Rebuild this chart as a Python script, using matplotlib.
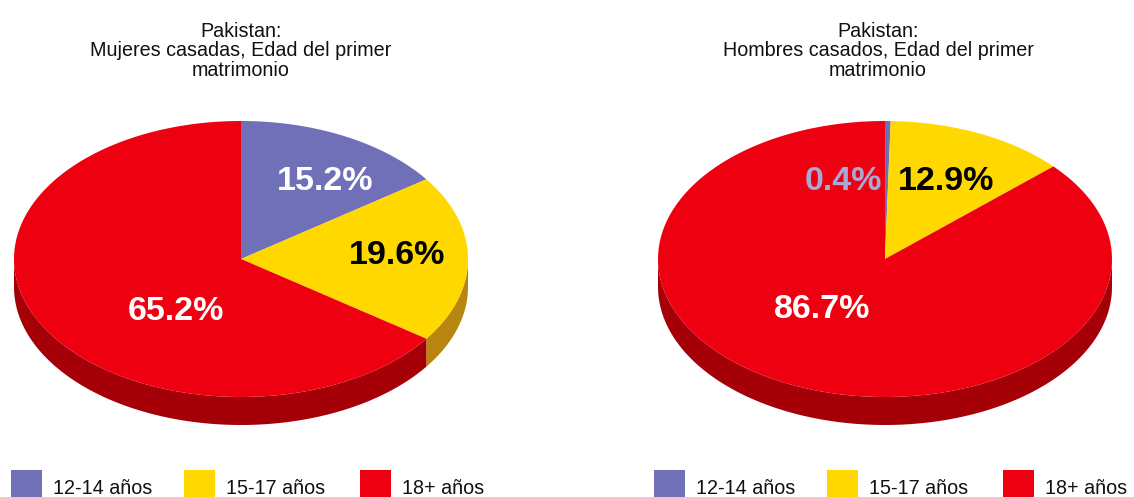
import numpy as np
import matplotlib
matplotlib.use("Agg")
import matplotlib.pyplot as plt
from matplotlib.patches import Wedge, Rectangle, Polygon

titles = ["Pakistan:\nMujeres casadas, Edad del primer\nmatrimonio",
          "Pakistan:\nHombres casados, Edad del primer\nmatrimonio"]
categories = ["12-14 años", "15-17 años", "18+ años"]
women = [15.2, 19.6, 65.2]
men = [0.4, 12.9, 86.7]
colors = ["#7070B8", "#FFD800", "#EE0011"]
dark = ["#50508a", "#B8860F", "#A50008"]
text_colors = ["white", "black", "white"]
W, H = 1134, 497
plt.rcParams['font.family'] = ['Liberation Sans', 'DejaVu Sans']
fig = plt.figure(figsize=(W/100, H/100), dpi=100)
ax = fig.add_axes([0, 0, 1, 1])
ax.set_xlim(0, W); ax.set_ylim(H, 0); ax.axis('off')

def pie(cx, cy, rx, ry, depth, vals, labels_at, lab_cols):
    a = 0
    edges = []
    for v in vals:
        edges.append((a, a + v/100*2*np.pi)); a += v/100*2*np.pi
    # side
    for (a0, a1), d in zip(edges, dark):
        # angle clockwise from top; visible side between pi/2 and 3pi/2
        s, e = max(a0, np.pi/2), min(a1, 3*np.pi/2)
        if e <= s: continue
        t = np.linspace(s, e, 100)
        x = cx + rx*np.sin(t); y = cy - ry*np.cos(t)
        pts = np.r_[np.c_[x, y], np.c_[x[::-1], y[::-1]+depth]]
        ax.add_patch(Polygon(pts, fc=d, ec='none'))
    for (a0, a1), c in zip(edges, colors):
        t = np.linspace(a0, a1, 200)
        x = cx + rx*np.sin(t); y = cy - ry*np.cos(t)
        ax.add_patch(Polygon(np.r_[[[cx, cy]], np.c_[x, y]], fc=c, ec='none'))
    for v, (lx, ly), col in zip(vals, labels_at, lab_cols):
        ax.text(lx, ly, f"{v:.1f}%", ha='center', va='center', fontsize=24.5, fontweight='bold', color=col)

pie(241, 259, 227, 138, 28, women, [(325, 181), (397, 255), (176, 311)], text_colors)
pie(885, 259, 227, 138, 28, men, [(843, 181), (946, 181), (822, 310)], ["#A9A9D6", "black", "white"])

for t, x in zip(titles, [241, 878]):
    ax.text(x, 51, t, ha='center', va='center', fontsize=14.2, linespacing=1.02, color='#111111')

for x0 in [11, 654]:
    for x, c, lab in zip([x0, x0+173, x0+349], colors, categories):
        ax.add_patch(Rectangle((x, 470), 31, 27, fc=c, ec='none'))
        ax.text(x+42, 488, lab, ha='left', va='center', fontsize=14.2, color='#111111')
fig.savefig("out.png", dpi=100)
